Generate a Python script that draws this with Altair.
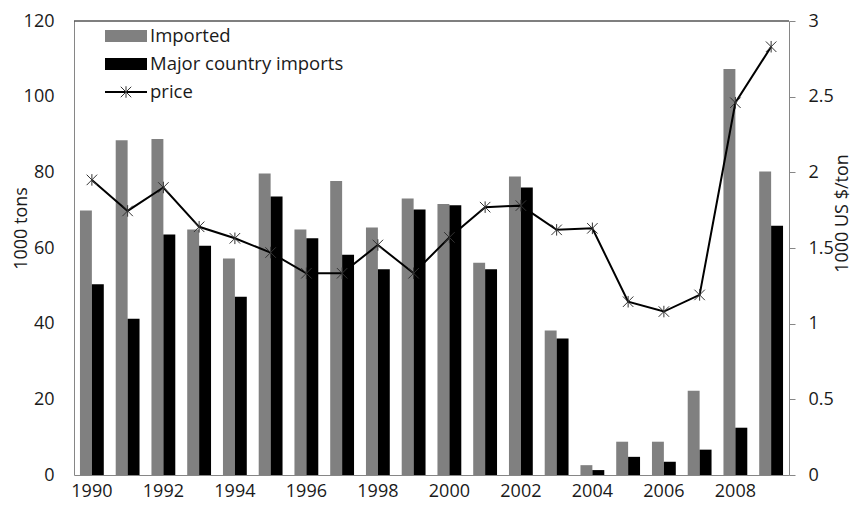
import altair as alt
import pandas as pd

years = list(range(1990, 2010))
imported = [69.9, 88.5, 88.8, 64.9, 57.2, 79.7, 64.9, 77.7, 65.4, 73.1,
            71.6, 56.1, 78.9, 38.2, 2.6, 8.8, 8.8, 22.3, 107.3, 80.2]
major = [50.4, 41.3, 63.6, 60.6, 47.1, 73.6, 62.6, 58.2, 54.4, 70.2,
         71.3, 54.4, 76.0, 36.1, 1.3, 4.8, 3.5, 6.7, 12.5, 65.9]
price = [1.95, 1.745, 1.90, 1.64, 1.564, 1.47, 1.333, 1.333, 1.52, 1.333,
         1.57, 1.77, 1.78, 1.62, 1.63, 1.145, 1.08, 1.19, 2.46, 2.83]

series_names = ["Imported", "Major country imports"]
legend_labels = ["Imported", "Major country imports", "price"]
legend_kinds = ["bar", "bar", "line"]
x_tick_years = years[::2]
left_ticks = [0, 20, 40, 60, 80, 100, 120]
right_ticks = [0, 0.5, 1, 1.5, 2, 2.5, 3]

W, H = 715, 454
FONT = "Open Sans"
TXT = "#1a1a1a"
AXC = "#868686"
STAR = "M-1,-1L1,1M-1,1L1,-1M0,-1.1L0,1.1"
SWATCH = "M-1.75,-0.5H1.75V0.5H-1.75Z"

bars_df = pd.DataFrame({
    "year": years + years,
    "series": [series_names[0]] * len(years) + [series_names[1]] * len(years),
    "value": imported + major,
})
price_df = pd.DataFrame({"year": years, "price": price})
legend_df = pd.DataFrame({"label": legend_labels, "kind": legend_kinds})

x_enc = alt.X(
    "year:O",
    scale=alt.Scale(paddingInner=1 / 3, paddingOuter=1 / 6),
    axis=alt.Axis(values=x_tick_years, labelAngle=0, ticks=False, title=None,
                  labelPadding=21, labelBaseline="alphabetic",
                  domainColor=AXC, grid=False),
)
color_scale = alt.Scale(domain=series_names, range=["#808080", "#000000"])

bars = alt.Chart(bars_df).mark_bar().encode(
    x=x_enc,
    xOffset=alt.XOffset("series:N", sort=series_names,
                        scale=alt.Scale(domain=series_names, paddingInner=0, paddingOuter=0)),
    y=alt.Y("value:Q", scale=alt.Scale(domain=[0, 120], nice=False),
            axis=alt.Axis(values=left_ticks, orient="left", ticks=False, grid=False,
                          title="1000 tons", labelPadding=20, domainColor=AXC,
                          titleX=-48, titleY=207, titleAngle=270,
                          titleBaseline="alphabetic", titleFontWeight="normal")),
    color=alt.Color("series:N", scale=color_scale, legend=None),
)

price_y_axis = alt.Axis(values=right_ticks, orient="right", ticks=True, tickSize=6,
                        tickColor=AXC, grid=False, format="~g",
                        title="1000 US $/ton", labelPadding=13, domainColor=AXC,
                        titleX=58, titleY=192, titleAngle=270,
                        titleBaseline="alphabetic", titleFontWeight="normal")

line = alt.Chart(price_df).mark_line(color="black", strokeWidth=2).encode(
    x=alt.X("year:O"),
    y=alt.Y("price:Q", scale=alt.Scale(domain=[0, 3], nice=False), axis=price_y_axis),
)
stars = alt.Chart(price_df).mark_point(shape=STAR, size=110, filled=False,
                                       stroke="#333333", strokeWidth=1, opacity=1).encode(
    x=alt.X("year:O"),
    y=alt.Y("price:Q", scale=alt.Scale(domain=[0, 3], nice=False), axis=None),
)

leg_y = alt.Y("label:N", scale=alt.Scale(type="point", domain=legend_labels,
                                          range=[15, 71], padding=0), axis=None)

leg_rects = alt.Chart(legend_df).transform_filter(alt.datum.kind == "bar").mark_point(
    shape=SWATCH, size=576, filled=True, opacity=1, strokeWidth=0).encode(
    x=alt.value(52), y=leg_y,
    color=alt.Color("label:N", scale=color_scale, legend=None),
)
leg_line = alt.Chart(legend_df).transform_filter(alt.datum.kind == "line").mark_rule(
    color="black", strokeWidth=2).encode(
    x=alt.value(31), x2=alt.value(73), y=leg_y,
)
leg_star = alt.Chart(legend_df).transform_filter(alt.datum.kind == "line").mark_point(
    shape=STAR, size=110, filled=False, stroke="#333333", strokeWidth=1, opacity=1).encode(
    x=alt.value(52), y=leg_y,
)
leg_text = alt.Chart(legend_df).mark_text(align="left", baseline="middle", font=FONT,
                                          fontSize=18.5, color=TXT).encode(
    x=alt.value(76), y=leg_y, text="label:N",
)

top_border = alt.Chart(price_df.head(1)).mark_rule(color="black", strokeWidth=1.2).encode(
    x=alt.value(0), x2=alt.value(W), y=alt.value(0),
)

chart = alt.layer(
    bars, line, stars, leg_rects, leg_line, leg_star, leg_text, top_border
).resolve_scale(y="independent").properties(
    width=W, height=H,
    padding={"left": 66, "top": 13, "right": 64, "bottom": 26},
    autosize=alt.AutoSizeParams(type="none"),
).configure_view(stroke=None).configure_axis(
    labelFont=FONT, labelFontSize=18, labelColor=TXT,
    titleFont=FONT, titleFontSize=18, titleColor=TXT,
)

chart.save("out.html", embed_options={"renderer": "svg", "actions": False})
